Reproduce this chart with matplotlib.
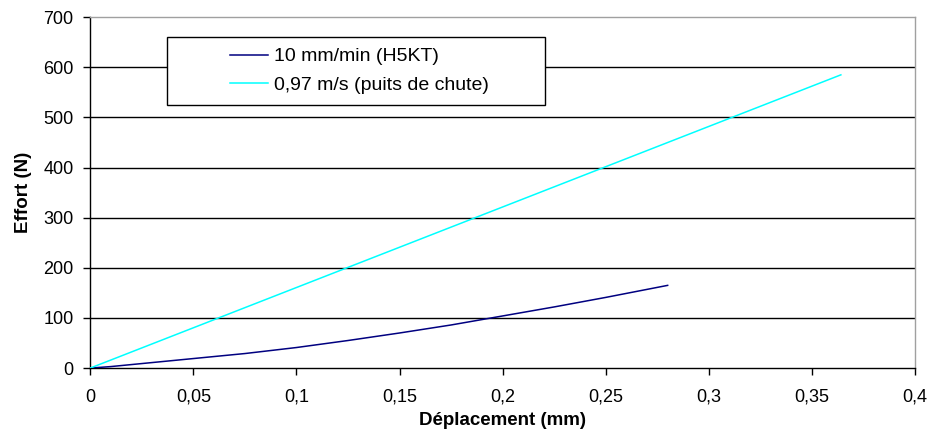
import matplotlib.pyplot as plt
import matplotlib.patches as mpatches

plt.rcParams['font.family'] = ['Liberation Sans', 'DejaVu Sans']

# données
dep_h5kt = [0.0, 0.01, 0.025, 0.05, 0.075, 0.10, 0.125, 0.15, 0.175, 0.20, 0.225, 0.25, 0.28]
eff_h5kt = [0, 3, 9, 19, 29, 41, 55, 70, 86, 104, 122, 141, 165]

dep_chute = [0.0, 0.364]
eff_chute = [0, 585]

xticks = [0, 0.05, 0.1, 0.15, 0.2, 0.25, 0.3, 0.35, 0.4]
xtick_labels = ['0', '0,05', '0,1', '0,15', '0,2', '0,25', '0,3', '0,35', '0,4']
yticks = [0, 100, 200, 300, 400, 500, 600, 700]

fig = plt.figure(figsize=(9.3, 4.3), dpi=100)
fig.patch.set_facecolor('white')
ax = fig.add_axes([0.097, 0.144, 0.887, 0.816])

# ── grille horizontale ──────────────
for y in yticks[1:-1]:
    ax.axhline(y, color='black', lw=1, zorder=1)

ax.plot(dep_h5kt, eff_h5kt, color='#000080', lw=1.1, label='10 mm/min (H5KT)', zorder=3)
ax.plot(dep_chute, eff_chute, color='#00FFFF', lw=1.1, label='0,97 m/s (puits de chute)', zorder=3)

ax.set_xlim(0, 0.4)
ax.set_ylim(0, 700)
ax.set_xticks(xticks)
ax.set_xticklabels(xtick_labels)
ax.set_yticks(yticks)

ax.spines['left'].set_color('black')
ax.spines['bottom'].set_color('black')
ax.spines['top'].set_color('#a0a0a0')
ax.spines['right'].set_color('#a0a0a0')
for s in ax.spines.values():
    s.set_linewidth(1)

ax.tick_params(direction='out', length=5, width=1, labelsize=13, colors='black')
ax.tick_params(axis='x', pad=10)
ax.tick_params(axis='y', pad=7)

ax.set_xlabel('Déplacement (mm)', fontsize=13.5, fontweight='bold', va='center')
ax.xaxis.set_label_coords(0.5, -0.148)
ax.set_ylabel('Effort (N)', fontsize=13.5, fontweight='bold', va='center')
ax.yaxis.set_label_coords(-0.081, 0.5)

# ── cadre de légende ────────────────
frame = mpatches.Rectangle((0.0933, 0.749), 0.4582, 0.194, transform=ax.transAxes,
                           facecolor='white', edgecolor='black', lw=1, zorder=4)
ax.add_patch(frame)

leg = ax.legend(loc='center left', bbox_to_anchor=(0.170, 0.8476),
                frameon=False, fontsize=14, handlelength=1.95, handletextpad=0.3,
                borderpad=0, labelspacing=0.55, borderaxespad=0)
leg.set_zorder(5)

fig.savefig('out.png', dpi=100, facecolor='white')
